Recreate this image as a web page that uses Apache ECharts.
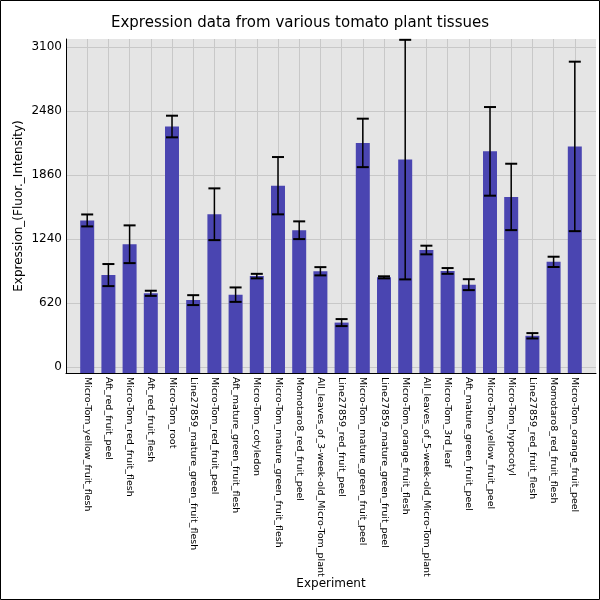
<!DOCTYPE html>
<html><head><meta charset="utf-8">
<script src="https://cdn.jsdelivr.net/npm/echarts@6/dist/echarts.min.js"></script>
<style>html,body{margin:0;padding:0;background:#fff}#c{width:600px;height:600px}</style>
</head><body><div id="c"></div>
<script>
const categories = ["Micro-Tom_yellow_fruit_flesh","Aft_red_fruit_peel","Micro-Tom_red_fruit_flesh","Aft_red_fruit_flesh","Micro-Tom_root","Line27859_mature_green_fruit_flesh","Micro-Tom_red_fruit_peel","Aft_mature_green_fruit_flesh","Micro-Tom_cotyledon","Micro-Tom_mature_green_fruit_flesh","Momotaro8_red_fruit_peel","All_leaves_of_3-week-old_Micro-Tom_plant","Line27859_red_fruit_peel","Micro-Tom_mature_green_fruit_peel","Line27859_mature_green_fruit_peel","Micro-Tom_orange_fruit_flesh","All_leaves_of_5-week-old_Micro-Tom_plant","Micro-Tom_3rd_leaf","Aft_mature_green_fruit_peel","Micro-Tom_yellow_fruit_peel","Micro-Tom_hypocotyl","Line27859_red_fruit_flesh","Momotaro8_red_fruit_flesh","Micro-Tom_orange_fruit_peel"];
const means = [1420,890,1189,713,2331,647,1480,700,880,1757,1325,927,429,2172,868,2010,1133,930,797,2090,1648,301,1018,2138];
const errors = [58,107,183,25,105,48,251,70,22,278,86,40,34,235,10,1162,42,28,53,430,322,26,50,822];
const yTicks = [0,620,1240,1860,2480,3100];
const yMin = -60, yMax = 3180;
const xIdx = categories.map((c,i)=>i);

const chart = echarts.init(document.getElementById('c'));
chart.setOption({
  animation:false,
  backgroundColor:'#fff',
  title:{text:'Expression data from various tomato plant tissues',left:'center',top:11,
    textStyle:{fontFamily:'DejaVu Sans',fontSize:15,fontWeight:'normal',color:'#000'}},
  grid:{left:66,right:4,top:39,bottom:227,show:true,backgroundColor:'#e5e5e5',borderWidth:0,containLabel:false,outerBoundsMode:'none'},
  xAxis:{type:'value',min:-1,max:categories.length,name:'Experiment',nameLocation:'middle',nameGap:205,nameMoveOverlap:false,
    nameTextStyle:{fontFamily:'DejaVu Sans',fontSize:12,color:'#000'},
    axisLine:{show:true,onZero:false,lineStyle:{color:'#000',width:1}},
    axisTick:{show:false,customValues:xIdx},
    splitLine:{show:true,lineStyle:{color:'#c8c8c8',width:1}},
    axisLabel:{customValues:xIdx,formatter:v=>categories[v],rotate:-90,fontFamily:'DejaVu Sans',fontSize:9.5,color:'#000',margin:4,showMinLabel:true,showMaxLabel:true,hideOverlap:false}},
  yAxis:{type:'value',min:yMin,max:yMax,name:'Expression_(Fluor._Intensity)',nameLocation:'middle',nameGap:41,nameMoveOverlap:false,
    nameTextStyle:{fontFamily:'DejaVu Sans',fontSize:12,color:'#000'},
    axisLine:{show:true,onZero:false,lineStyle:{color:'#000',width:1}},
    axisTick:{show:false,customValues:yTicks},
    splitLine:{show:true,lineStyle:{color:'#c8c8c8',width:1}},
    axisLabel:{customValues:yTicks,formatter:v=>String(v),fontFamily:'DejaVu Sans',fontSize:12,color:'#000',margin:4}},
  graphic:[{type:'rect',shape:{x:0.5,y:0.5,width:599,height:599},style:{fill:'none',stroke:'#000',lineWidth:1},silent:true}],
  series:[
    {type:'custom',data:means.map((v,i)=>[i,v]),encode:{x:0,y:1},
     renderItem:function(params,api){
       const i=api.value(0), v=api.value(1);
       const top=api.coord([i,v]), base=api.coord([i,yMin]);
       const w=api.size([0.66,0])[0];
       return {type:'rect',shape:{x:top[0]-w/2,y:top[1],width:w,height:base[1]-top[1]},
         style:{fill:'#4a45b1'}};
     }},
    {type:'custom',data:means.map((v,i)=>[i,v-errors[i],v+errors[i]]),encode:{x:0,y:[1,2]},z:5,
     renderItem:function(params,api){
       const i=api.value(0);
       const lo=api.coord([i,api.value(1)]), hi=api.coord([i,api.value(2)]);
       const c=6;
       return {type:'group',children:[
         {type:'line',shape:{x1:lo[0],y1:lo[1],x2:hi[0],y2:hi[1]},style:{stroke:'#000',lineWidth:1.5}},
         {type:'line',shape:{x1:lo[0]-c,y1:lo[1],x2:lo[0]+c,y2:lo[1]},style:{stroke:'#000',lineWidth:2}},
         {type:'line',shape:{x1:hi[0]-c,y1:hi[1],x2:hi[0]+c,y2:hi[1]},style:{stroke:'#000',lineWidth:2}}
       ]};
     }}
  ]
});
</script></body></html>
